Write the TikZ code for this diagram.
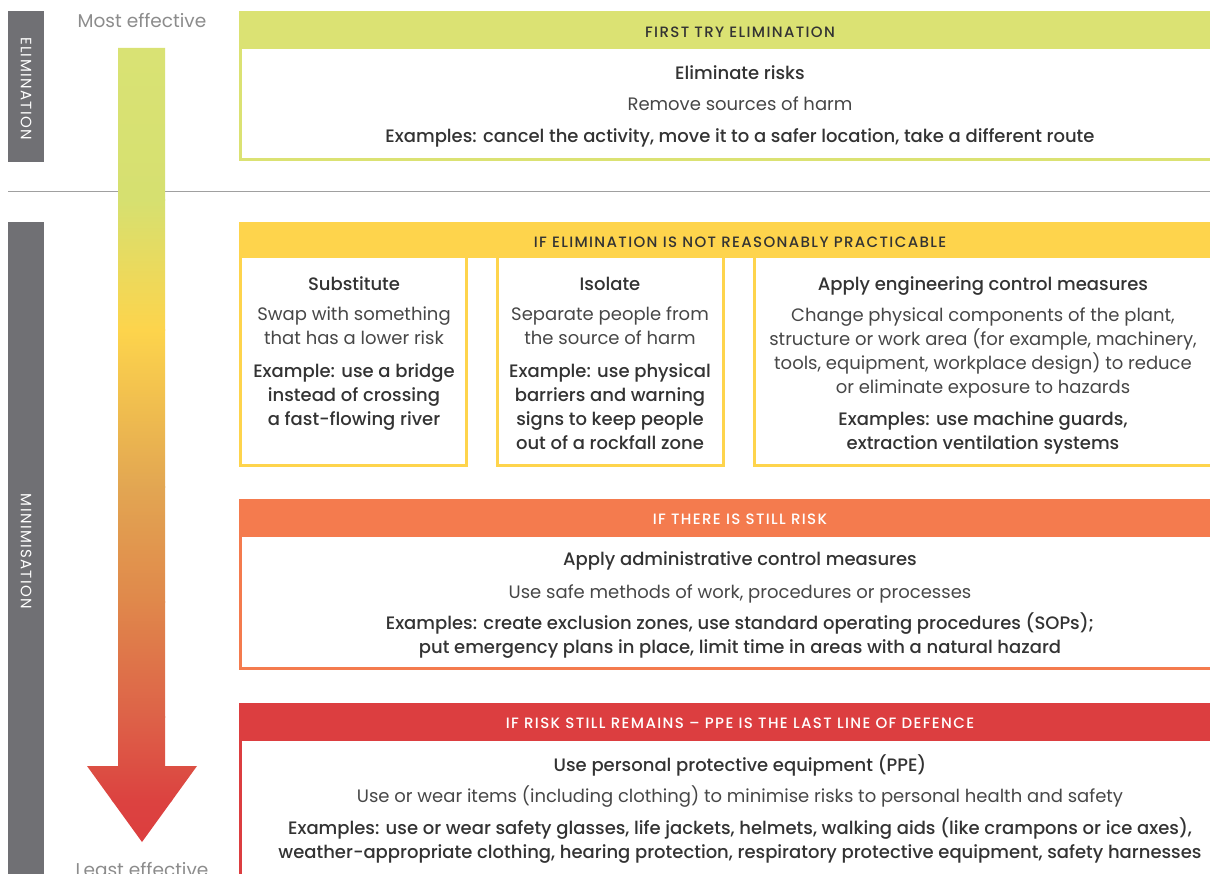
\documentclass[tikz,border=0pt]{standalone}
\usepackage{fontspec}
\setmainfont{Poppins}[BoldFont={Poppins Medium}]
\newfontfamily\hdrfont{Poppins}[BoldFont={Poppins Medium}, LetterSpace=9]
\definecolor{elgreen}{HTML}{DBE273}
\definecolor{elyellow}{HTML}{FED44C}
\definecolor{elorange}{HTML}{F47B4E}
\definecolor{elred}{HTML}{DC3E40}
\definecolor{bargrey}{HTML}{707074}
\definecolor{txtdark}{HTML}{333333}
\definecolor{txtreg}{HTML}{474747}
\definecolor{txtlight}{HTML}{8C8C8C}
\definecolor{rulegrey}{HTML}{A0A0A0}
\definecolor{sA}{HTML}{D9E274}
\definecolor{sB}{HTML}{D6E070}
\definecolor{sC}{HTML}{FDD44C}
\definecolor{sD}{HTML}{E2A652}
\definecolor{sE}{HTML}{E0884B}
\definecolor{sF}{HTML}{DD6248}
\definecolor{sG}{HTML}{DC4240}
\definecolor{sH}{HTML}{DC3E3F}
\begin{document}
\begin{tikzpicture}[x=1pt,y=-1pt,
  every node/.style={inner sep=0pt, anchor=base, yshift=-1.5pt},
  hdr/.style={font=\hdrfont\fontsize{15}{16}\selectfont\bfseries, text=txtdark},
  hdrw/.style={font=\hdrfont\fontsize{15}{16}\selectfont\bfseries, text=white},
  ttl/.style={font=\fontsize{18}{24}\selectfont\bfseries, text=txtdark},
  reg/.style={font=\fontsize{18}{24}\selectfont, text=txtreg},
  exl/.style={font=\fontsize{18}{24}\selectfont\bfseries, text=txtdark},
  side/.style={font=\hdrfont\fontsize{15}{16}\selectfont, text=white, rotate=-90, anchor=center},
  edge/.style={font=\fontsize{18.5}{20}\selectfont, text=txtlight},
  frame/.style={line width=3pt, fill=white}]
\useasboundingbox (0,0) rectangle (1210,874);
\clip (0,0) rectangle (1210,874);
\fill[white] (0,0) rectangle (1210,874);

% side bars
\fill[bargrey] (8,11) rectangle (44,162);
\fill[bargrey] (8,222) rectangle (44,880);
\node[side] (elim) at (26,87) {ELIMINATION};
\node[side] (mini) at (26,550) {MINIMISATION};

% separator
\draw[rulegrey, line width=1pt] (8,192) -- (1210,192);

% arrow
\begin{scope}
\clip (118,48) -- (165,48) -- (165,766) -- (197,766) -- (142,842) -- (87,766) -- (118,766) -- cycle;
\shade[top color=sA, bottom color=sB] (80,47) rectangle (200,201);
\shade[top color=sB, bottom color=sC] (80,200) rectangle (200,331);
\shade[top color=sC, bottom color=sD] (80,330) rectangle (200,487);
\shade[top color=sD, bottom color=sE] (80,486) rectangle (200,602);
\shade[top color=sE, bottom color=sF] (80,601) rectangle (200,717);
\shade[top color=sF, bottom color=sG] (80,716) rectangle (200,801);
\shade[top color=sG, bottom color=sH] (80,800) rectangle (200,843);
\end{scope}
\node[edge] (most) at (142,26) {Most effective};
\node[edge] (least) at (142,875) {Least effective};

% Box 1
\draw[frame, draw=elgreen] (240.5,40) rectangle (1260,159.5);
\fill[elgreen] (239,11) rectangle (1260,49);
\node[hdr] (h1) at (740,36) {FIRST TRY ELIMINATION};
\node[ttl] (t1) at (740,78) {Eliminate risks};
\node[reg] (r1) at (740,109) {Remove sources of harm};
\node[exl] (e1) at (740,141) {Examples: cancel the activity, move it to a safer location, take a different route};

% Box 2
\draw[frame, draw=elyellow] (240.5,240) rectangle (466.5,465.5);
\draw[frame, draw=elyellow] (497.5,240) rectangle (723.5,465.5);
\draw[frame, draw=elyellow] (754.5,240) rectangle (1260,465.5);
\fill[elyellow] (239,222) rectangle (1260,258);
\node[hdr] (h2) at (740,246) {IF ELIMINATION IS NOT REASONABLY PRACTICABLE};
\node[ttl] (t2a) at (354,289) {Substitute};
\node[reg] (r2a1) at (354,319) {Swap with something};
\node[reg] (r2a2) at (354,343) {that has a lower risk};
\node[exl] (e2a1) at (354,376) {Example: use a bridge};
\node[exl] (e2a2) at (354,400) {instead of crossing};
\node[exl] (e2a3) at (354,424) {a fast-flowing river};
\node[ttl] (t2b) at (610,289) {Isolate};
\node[reg] (r2b1) at (610,319) {Separate people from};
\node[reg] (r2b2) at (610,343) {the source of harm};
\node[exl] (e2b1) at (610,376) {Example: use physical};
\node[exl] (e2b2) at (610,400) {barriers and warning};
\node[exl] (e2b3) at (610,424) {signs to keep people};
\node[exl] (e2b4) at (610,448) {out of a rockfall zone};
\node[ttl] (t2c) at (983,289) {Apply engineering control measures};
\node[reg] (r2c1) at (983,320) {Change physical components of the plant,};
\node[reg] (r2c2) at (983,344) {structure or work area (for example, machinery,};
\node[reg] (r2c3) at (983,368) {tools, equipment, workplace design) to reduce};
\node[reg] (r2c4) at (983,392) {or eliminate exposure to hazards};
\node[exl] (e2c1) at (983,424) {Examples: use machine guards,};
\node[exl] (e2c2) at (983,448) {extraction ventilation systems};

% Box 3
\draw[frame, draw=elorange] (240.5,520) rectangle (1260,668.5);
\fill[elorange] (239,499) rectangle (1260,537);
\node[hdrw] (h3) at (740,523) {IF THERE IS STILL RISK};
\node[ttl] (t3) at (740,564) {Apply administrative control measures};
\node[reg] (r3) at (740,597) {Use safe methods of work, procedures or processes};
\node[exl] (e3a) at (740,628) {Examples: create exclusion zones, use standard operating procedures (SOPs);};
\node[exl] (e3b) at (740,652) {put emergency plans in place, limit time in areas with a natural hazard};

% Box 4
\draw[frame, draw=elred] (240.5,720) rectangle (1260,900);
\fill[elred] (239,703) rectangle (1260,741);
\node[hdrw] (h4) at (740,727) {IF RISK STILL REMAINS – PPE IS THE LAST LINE OF DEFENCE};
\node[ttl] (t4) at (740,770) {Use personal protective equipment (PPE)};
\node[reg] (r4) at (740,801) {Use or wear items (including clothing) to minimise risks to personal health and safety};
\node[exl] (e4a) at (740,833) {Examples: use or wear safety glasses, life jackets, helmets, walking aids (like crampons or ice axes),};
\node[exl] (e4b) at (740,857) {weather-appropriate clothing, hearing protection, respiratory protective equipment, safety harnesses};
\end{tikzpicture}
\end{document}
